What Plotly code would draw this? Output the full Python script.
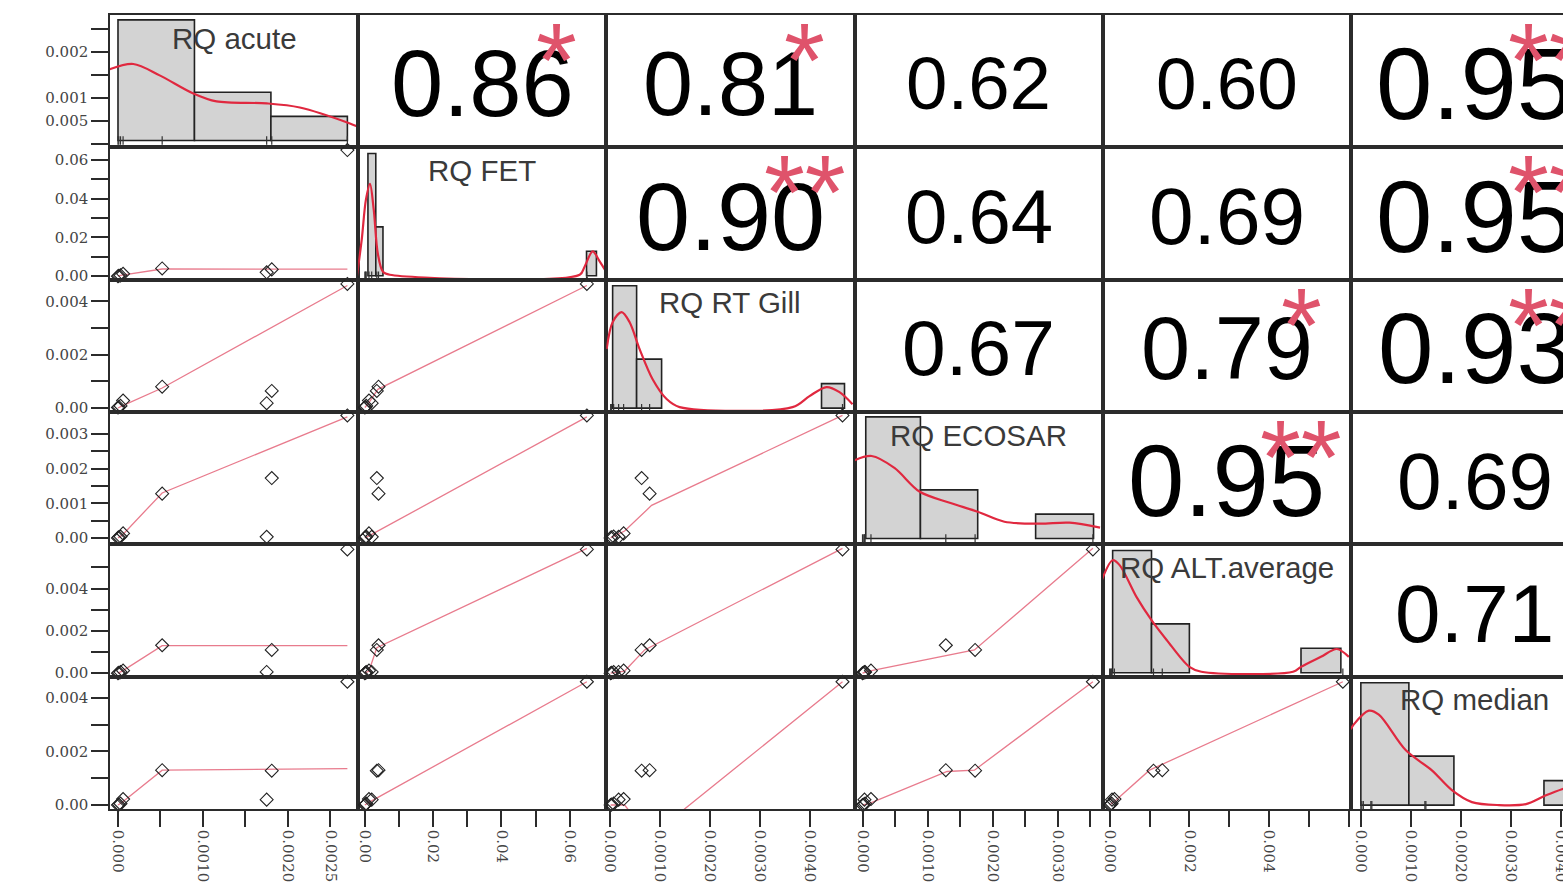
import plotly.graph_objects as go
from plotly.subplots import make_subplots

# ---------------- data ----------------
var_names = ["RQ acute", "RQ FET", "RQ RT Gill", "RQ ECOSAR", "RQ ALT.average", "RQ median"]

rq_acute = [0.0, 0.00001, 0.00003, 0.00006, 0.00052, 0.00175, 0.00181, 0.0027]
rq_fet = [0.0, 0.0002, 0.0004, 0.0012, 0.0040, 0.0020, 0.0035, 0.065]
rq_rt_gill = [0.00002, 0.00004, 0.00008, 0.00028, 0.00080, 0.00018, 0.00064, 0.00466]
rq_ecosar = [0.0, 0.00002, 0.00004, 0.00013, 0.00128, 0.00003, 0.00173, 0.00354]
rq_alt_average = [0.0, 0.00002, 0.00005, 0.00012, 0.00132, 0.00006, 0.00110, 0.00585]
rq_median = [0.0, 0.00002, 0.00005, 0.00022, 0.00130, 0.00020, 0.00128, 0.00460]

# histogram bars (left edge, right edge, count)
acute_bin_left = [0.0, 0.0009, 0.0018]
acute_bin_right = [0.0009, 0.0018, 0.0027]
acute_bin_count = [5, 2, 1]
fet_bin_left = [0.0009, 0.0032, 0.0649]
fet_bin_right = [0.0032, 0.0053, 0.0678]
fet_bin_count = [5, 2, 1]
rt_bin_left = [0.00006, 0.00054, 0.00424]
rt_bin_right = [0.00054, 0.00104, 0.0047]
rt_bin_count = [5, 2, 1]
eco_bin_left = [0.00005, 0.00089, 0.00266]
eco_bin_right = [0.00089, 0.00177, 0.00355]
eco_bin_count = [5, 2, 1]
alt_bin_left = [0.000075, 0.00105, 0.0048]
alt_bin_right = [0.00105, 0.002, 0.0058]
alt_bin_count = [5, 2, 1]
med_bin_left = [0.0, 0.00096, 0.00366]
med_bin_right = [0.00096, 0.00186, 0.0046]
med_bin_count = [5, 2, 1]

# density curves (x in variable units, y in histogram count units)
acute_dens_x = [-0.0001, 0.00018, 0.00049, 0.00088, 0.00116, 0.00175, 0.00214, 0.00273, 0.00282]
acute_dens_y = [2.95, 3.17, 2.7, 1.96, 1.62, 1.54, 1.37, 0.71, 0.58]
fet_dens_x = [-0.0023, -0.0009, 0.0003, 0.0015, 0.0026, 0.0038, 0.0053, 0.0073, 0.0629, 0.0643, 0.0667, 0.0687, 0.0705]
fet_dens_y = [0.0, 1.5, 3.1, 3.76, 2.7, 0.9, 0.16, 0.04, 0.04, 0.36, 1.0, 0.6, 0.2]
rt_dens_x = [-0.00006, 0.00006, 0.00024, 0.0004, 0.0006, 0.00086, 0.00114, 0.0014, 0.00366, 0.004, 0.00434, 0.0046, 0.00486]
rt_dens_y = [2.41, 3.51, 3.92, 3.51, 2.41, 1.18, 0.37, 0.04, 0.04, 0.49, 0.86, 0.65, 0.16]
eco_dens_x = [-0.00012, 0.00014, 0.00049, 0.00088, 0.00134, 0.00177, 0.00218, 0.00272, 0.00318, 0.00365]
eco_dens_y = [3.22, 3.39, 2.9, 1.92, 1.47, 1.1, 0.69, 0.61, 0.65, 0.45]
alt_dens_x = [-0.00025, 0.000075, 0.00025, 0.00068, 0.00105, 0.00143, 0.002, 0.0023, 0.0046, 0.0048, 0.0053, 0.0057, 0.006]
alt_dens_y = [3.56, 4.6, 4.4, 3.08, 2.15, 1.34, 0.24, 0.04, 0.04, 0.24, 0.65, 0.97, 0.65]
med_dens_x = [-0.0002, -0.00014, 0.00016, 0.00036, 0.0009, 0.00142, 0.00182, 0.00222, 0.00276, 0.0033, 0.0037, 0.00402, 0.00436, 0.0046, 0.00476]
med_dens_y = [3.1, 3.3, 3.86, 3.7, 2.24, 1.42, 0.61, 0.12, 0.0, 0.04, 0.4, 0.65, 0.85, 0.73, 0.5]

# smoother lines in the scatter panels (row variable vs column variable)
smooth_1_0_x = [0.0, 0.00005, 0.00052, 0.0027]
smooth_1_0_y = [0.0001, 0.0005, 0.0037, 0.0036]
smooth_2_0_x = [0.0, 0.00005, 0.00052, 0.0027]
smooth_2_0_y = [0.0, 0.00008, 0.00075, 0.0046]
smooth_3_0_x = [0.0, 0.00005, 0.00052, 0.0018, 0.0027]
smooth_3_0_y = [0.0, 0.00008, 0.0013, 0.0026, 0.0035]
smooth_4_0_x = [0.0, 0.00005, 0.00052, 0.0027]
smooth_4_0_y = [0.0, 0.0001, 0.0013, 0.0013]
smooth_5_0_x = [0.0, 0.00005, 0.00052, 0.00175, 0.0027]
smooth_5_0_y = [0.0, 0.0001, 0.0013, 0.00132, 0.00136]
smooth_2_1_x = [0.0, 0.0012, 0.0038, 0.065]
smooth_2_1_y = [0.00002, 0.0002, 0.0007, 0.0046]
smooth_3_1_x = [0.0, 0.002, 0.065]
smooth_3_1_y = [0.0, 0.0001, 0.0035]
smooth_4_1_x = [0.0, 0.0012, 0.0035, 0.065]
smooth_4_1_y = [0.0, 0.0001, 0.0012, 0.0059]
smooth_5_1_x = [0.0, 0.0012, 0.065]
smooth_5_1_y = [0.0, 0.0001, 0.0046]
smooth_3_2_x = [0.00002, 0.0003, 0.00084, 0.00466]
smooth_3_2_y = [0.0, 0.0002, 0.00094, 0.00354]
smooth_4_2_x = [0.00002, 0.0003, 0.0007, 0.00466]
smooth_4_2_y = [0.0, 0.0001, 0.0011, 0.0059]
smooth_5_2_x = [0.00002, 0.0003, 0.0008, 0.00466]
smooth_5_2_y = [0.0, 0.0, -0.0012, 0.0046]
smooth_4_3_x = [0.0, 0.0001, 0.00172, 0.00354]
smooth_4_3_y = [0.0, 0.0001, 0.0011, 0.0059]
smooth_5_3_x = [0.0, 0.0001, 0.0013, 0.00172, 0.00354]
smooth_5_3_y = [0.0, 0.00005, 0.00125, 0.0013, 0.0046]
smooth_5_4_x = [0.0, 0.0001, 0.001, 0.00585]
smooth_5_4_y = [0.0, 0.0001, 0.0013, 0.0046]

# correlations, upper triangle in row order
corr_text = ["0.86", "0.81", "0.62", "0.60", "0.95",
             "0.90", "0.64", "0.69", "0.95",
             "0.67", "0.79", "0.93",
             "0.95", "0.69",
             "0.71"]
corr_stars = ["*", "*", "", "", "**",
              "**", "", "", "**",
              "", "*", "**",
              "**", "",
              ""]

# tick values / labels
x_tickvals = [
    [0, 0.0005, 0.001, 0.0015, 0.002, 0.0025],
    [0, 0.01, 0.02, 0.03, 0.04, 0.05, 0.06],
    [0, 0.001, 0.002, 0.003, 0.004],
    [0, 0.0005, 0.001, 0.0015, 0.002, 0.0025, 0.003, 0.0035],
    [0, 0.001, 0.002, 0.003, 0.004, 0.005, 0.006],
    [0, 0.001, 0.002, 0.003, 0.004],
]
x_ticktext = [
    ["0.000", "", "0.0010", "", "0.0020", "0.0025"],
    ["0.00", "", "0.02", "", "0.04", "", "0.06"],
    ["0.000", "0.0010", "0.0020", "0.0030", "0.0040"],
    ["0.000", "", "0.0010", "", "0.0020", "", "0.0030", ""],
    ["0.000", "", "0.002", "", "0.004", "", ""],
    ["0.000", "0.0010", "0.0020", "0.0030", "0.0040"],
]
y_tickvals = [
    [0, 0.0005, 0.001, 0.0015, 0.002, 0.0025],
    [0, 0.01, 0.02, 0.03, 0.04, 0.05, 0.06],
    [0, 0.001, 0.002, 0.003, 0.004],
    [0, 0.0005, 0.001, 0.0015, 0.002, 0.0025, 0.003],
    [0, 0.001, 0.002, 0.003, 0.004, 0.005],
    [0, 0.001, 0.002, 0.003, 0.004],
]
y_ticktext = [
    ["", "0.005", "0.001", "", "0.002", ""],
    ["0.00", "", "0.02", "", "0.04", "", "0.06"],
    ["0.00", "", "0.002", "", "0.004"],
    ["0.00", "", "0.001", "", "0.002", "", "0.003"],
    ["0.00", "", "0.002", "", "0.004", ""],
    ["0.00", "", "0.002", "", "0.004"],
]

# ---------------- assembly ----------------
values = [rq_acute, rq_fet, rq_rt_gill, rq_ecosar, rq_alt_average, rq_median]
bins = [
    (acute_bin_left, acute_bin_right, acute_bin_count),
    (fet_bin_left, fet_bin_right, fet_bin_count),
    (rt_bin_left, rt_bin_right, rt_bin_count),
    (eco_bin_left, eco_bin_right, eco_bin_count),
    (alt_bin_left, alt_bin_right, alt_bin_count),
    (med_bin_left, med_bin_right, med_bin_count),
]
dens = [
    (acute_dens_x, acute_dens_y), (fet_dens_x, fet_dens_y), (rt_dens_x, rt_dens_y),
    (eco_dens_x, eco_dens_y), (alt_dens_x, alt_dens_y), (med_dens_x, med_dens_y),
]
smooth = {
    (1, 0): (smooth_1_0_x, smooth_1_0_y), (2, 0): (smooth_2_0_x, smooth_2_0_y),
    (3, 0): (smooth_3_0_x, smooth_3_0_y), (4, 0): (smooth_4_0_x, smooth_4_0_y),
    (5, 0): (smooth_5_0_x, smooth_5_0_y), (2, 1): (smooth_2_1_x, smooth_2_1_y),
    (3, 1): (smooth_3_1_x, smooth_3_1_y), (4, 1): (smooth_4_1_x, smooth_4_1_y),
    (5, 1): (smooth_5_1_x, smooth_5_1_y), (3, 2): (smooth_3_2_x, smooth_3_2_y),
    (4, 2): (smooth_4_2_x, smooth_4_2_y), (5, 2): (smooth_5_2_x, smooth_5_2_y),
    (4, 3): (smooth_4_3_x, smooth_4_3_y), (5, 3): (smooth_5_3_x, smooth_5_3_y),
    (5, 4): (smooth_5_4_x, smooth_5_4_y),
}

x_ranges = [[-0.000094, 0.002827], [-0.00196, 0.0707], [-0.000066, 0.0049],
            [-0.000123, 0.00369], [-0.000175, 0.00605], [-0.0002, 0.00476]]
y_ranges = [[-0.00007, 0.0028], [-0.0018, 0.0664], [-0.00015, 0.00482],
            [-0.000186, 0.00364], [-0.000165, 0.00609], [-0.00015, 0.00479]]
count_ranges = [[-0.28, 5.2], [-0.16, 5.25], [-0.16, 5.25],
                [-0.24, 5.2], [-0.16, 5.25], [-0.16, 5.25]]

LINE = "#2b2b2b"
DENS = "#E0283F"
SMOOTH = "rgba(226,90,112,0.8)"
STAR = "#DF536B"
SANS = "Liberation Sans, Arial, sans-serif"
SERIF = "DejaVu Serif, serif"

fig = make_subplots(rows=6, cols=6, horizontal_spacing=0, vertical_spacing=0)


def ax(idx, kind):
    return kind if idx == 1 else f"{kind}{idx}"


def axkey(idx, kind):
    return f"{kind}axis" if idx == 1 else f"{kind}axis{idx}"


def to_count(v, r):
    lo_v, hi_v = y_ranges[r]
    lo_c, hi_c = count_ranges[r]
    return lo_c + (v - lo_v) * (hi_c - lo_c) / (hi_v - lo_v)


annotations = []
k = 0
for r in range(6):
    for c in range(6):
        idx = r * 6 + c + 1
        xa, ya = ax(idx, "x"), ax(idx, "y")
        yrange = y_ranges[r]
        ytv = y_tickvals[r]
        if r == c:
            left, right, cnt = bins[r]
            fig.add_trace(go.Bar(
                x=[(a + b) / 2 for a, b in zip(left, right)],
                y=cnt, width=[b - a for a, b in zip(left, right)],
                marker=dict(color="#d3d3d3", line=dict(color="#222", width=1.6)),
                xaxis=xa, yaxis=ya, showlegend=False, hoverinfo="skip"))
            fig.add_trace(go.Scatter(
                x=dens[r][0], y=dens[r][1], mode="lines",
                line=dict(color=DENS, width=2.2, shape="spline", smoothing=0.9),
                xaxis=xa, yaxis=ya, showlegend=False, hoverinfo="skip"))
            fig.add_trace(go.Scatter(
                x=values[r], y=[0] * len(values[r]), mode="markers",
                marker=dict(symbol="line-ns-open", size=6, color="#333",
                            line=dict(color="#333", width=1.2)),
                xaxis=xa, yaxis=ya, showlegend=False, hoverinfo="skip"))
            annotations.append(dict(
                text=var_names[r], x=0.5, y=0.825, xref=f"{xa} domain", yref=f"{ya} domain",
                xanchor="center", yanchor="middle", showarrow=False,
                font=dict(family=SANS, size=29.5, color="#3a3a3a")))
            yrange = count_ranges[r]
            ytv = [to_count(v, r) for v in y_tickvals[r]]
        elif r > c:
            sx, sy = smooth[(r, c)]
            fig.add_trace(go.Scatter(
                x=sx, y=sy, mode="lines", line=dict(color=SMOOTH, width=1.3),
                xaxis=xa, yaxis=ya, showlegend=False, hoverinfo="skip"))
            fig.add_trace(go.Scatter(
                x=values[c], y=values[r], mode="markers", cliponaxis=False,
                marker=dict(symbol="diamond-open", size=10, color="#222",
                            line=dict(color="#222", width=1.1)),
                xaxis=xa, yaxis=ya, showlegend=False, hoverinfo="skip"))
        else:
            # invisible placeholder so that the (empty) panel gets drawn
            fig.add_trace(go.Scatter(
                x=[values[c][0]], y=[values[r][0]], mode="markers",
                marker=dict(opacity=0), xaxis=xa, yaxis=ya,
                showlegend=False, hoverinfo="skip"))
            txt = corr_text[k]
            st = corr_stars[k]
            k += 1
            size = 81 * (float(txt) + 0.3)
            annotations.append(dict(
                text=txt, x=0.5, y=0.48, xref=f"{xa} domain", yref=f"{ya} domain",
                xanchor="center", yanchor="middle", showarrow=False,
                font=dict(family=SANS, size=size, color="#000")))
            if st:
                annotations.append(dict(
                    text=st, x=0.8, y=0.655, xref=f"{xa} domain", yref=f"{ya} domain",
                    xanchor="center", yanchor="middle", showarrow=False,
                    font=dict(family=SANS, size=105, color=STAR)))

        fig.layout[axkey(idx, "x")].update(
            range=x_ranges[c], showgrid=False, zeroline=False,
            showline=True, mirror=True, linecolor=LINE, linewidth=1.5,
            ticks="outside" if r == 5 else "", showticklabels=(r == 5),
            tickmode="array", tickvals=x_tickvals[c], ticktext=x_ticktext[c],
            tickangle=90, ticklen=16, tickwidth=1.5, tickcolor=LINE,
            tickfont=dict(family=SERIF, size=15, color="#444"))
        fig.layout[axkey(idx, "y")].update(
            range=yrange, showgrid=False, zeroline=False,
            showline=True, mirror=True, linecolor=LINE, linewidth=1.5,
            ticks="outside" if c == 0 else "", showticklabels=(c == 0),
            tickmode="array", tickvals=ytv, ticktext=y_ticktext[r],
            ticklen=17, tickwidth=1.5, tickcolor=LINE,
            tickfont=dict(family=SERIF, size=15, color="#444"))

fig.update_layout(
    width=1600, height=882,
    margin=dict(l=110, r=0, t=15, b=70),
    paper_bgcolor="white", plot_bgcolor="white",
    annotations=annotations, showlegend=False, barmode="overlay",
)

fig.write_html(
    "out.html",
    config={"displayModeBar": False},
    post_script="document.body.style.margin='0px';document.body.style.overflow='hidden';",
)
